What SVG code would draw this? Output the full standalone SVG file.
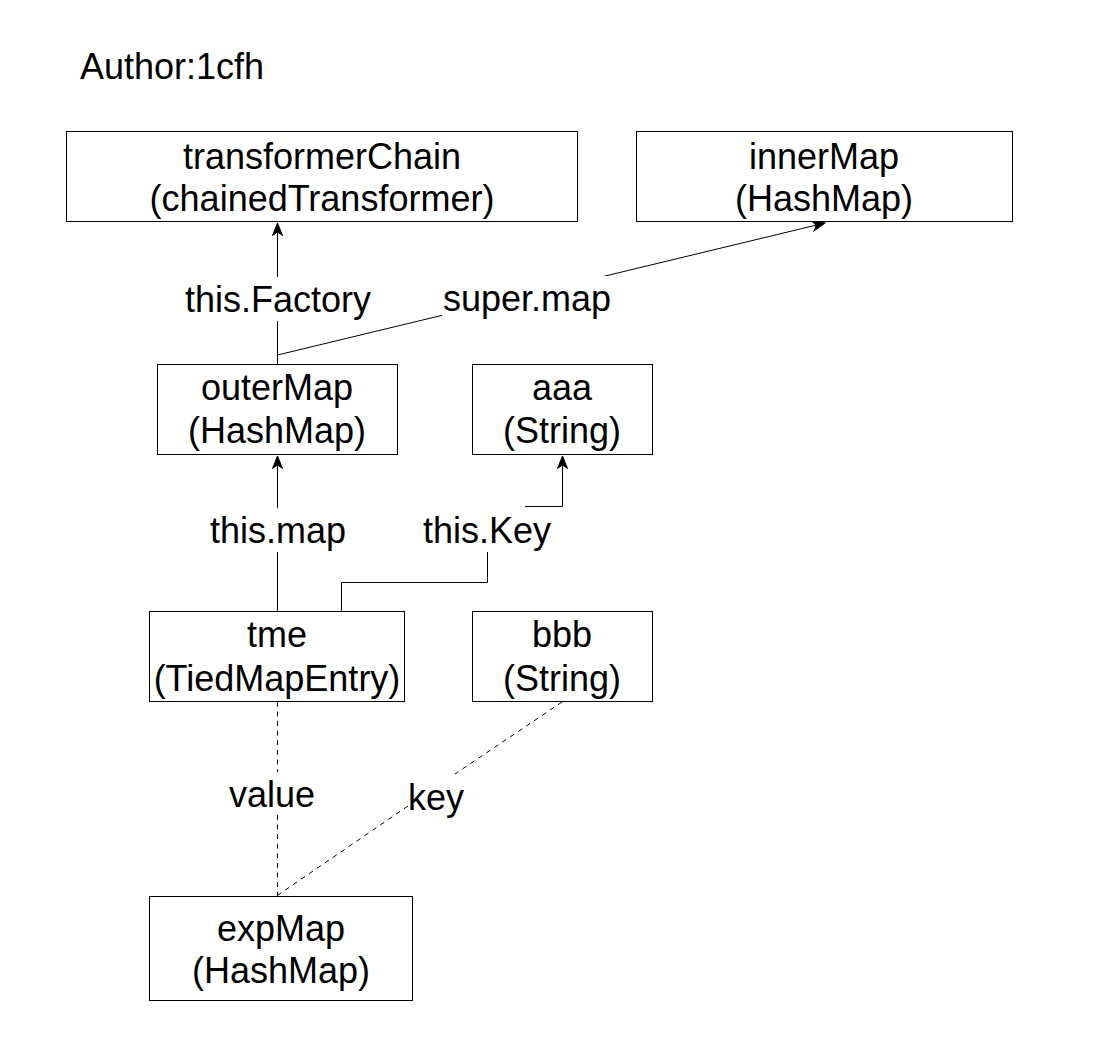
<svg xmlns="http://www.w3.org/2000/svg" width="1107" height="1038" viewBox="0 0 1107 1038">
<style>
  .box { fill: #ffffff; stroke: #000000; stroke-width: 1; }
  .t { font-family: "Liberation Sans", Arial, sans-serif; font-size: 36px; fill: #000000; text-anchor: middle; }
  .edge { fill: none; stroke: #000000; stroke-width: 1; }
  .dash { fill: none; stroke: #000000; stroke-width: 1; stroke-dasharray: 4.8 4.8; }
  .lbg { fill: #ffffff; stroke: none; }
</style>
<defs>
  <marker id="arrow" markerUnits="userSpaceOnUse" markerWidth="14" markerHeight="11" refX="13" refY="5.5" orient="auto" overflow="visible">
    <path d="M0.5,0.5 L13,5.5 L0.5,10.5 L4,5.5 Z" fill="#000000" stroke="#000000" stroke-width="1" stroke-linejoin="miter"/>
  </marker>
</defs>
<rect x="0" y="0" width="1107" height="1038" fill="#ffffff"/>

<text x="80" y="79" class="t" style="text-anchor:start">Author:1cfh</text>

<g id="connectors">
  <g id="e-factory">
    <path class="edge" d="M277.5,364 V223" marker-end="url(#arrow)"/>
    <rect class="lbg" x="185" y="277" width="187" height="44"/>
    <text class="t" x="278" y="312">this.Factory</text>
  </g>
  <g id="e-supermap">
    <path class="edge" d="M277.5,355 L825,223" marker-end="url(#arrow)"/>
    <rect class="lbg" x="442" y="276" width="170" height="44"/>
    <text class="t" x="527" y="311">super.map</text>
  </g>
  <g id="e-thismap">
    <path class="edge" d="M277.5,611 V456" marker-end="url(#arrow)"/>
    <rect class="lbg" x="210" y="508" width="136" height="44"/>
    <text class="t" x="278" y="543">this.map</text>
  </g>
  <g id="e-thiskey">
    <path class="edge" d="M341.5,611 V582.5 H487.5 V552"/>
    <path class="edge" d="M525,506.5 H562.5 V456" marker-end="url(#arrow)"/>
    <text class="t" x="487" y="543">this.Key</text>
  </g>
  <g id="e-value">
    <path class="dash" d="M277.5,702 V772 M277.5,815 V896"/>
    <text class="t" x="272" y="807">value</text>
  </g>
  <g id="e-key">
    <path class="dash" d="M562,702 L455,774 M408,806 L278,895"/>
    <text class="t" x="436" y="810">key</text>
  </g>
</g>

<g id="n-transformerChain">
  <rect class="box" x="66.5" y="131.5" width="511" height="90"/>
  <text class="t" x="322" y="169">transformerChain</text>
  <text class="t" x="322" y="211">(chainedTransformer)</text>
</g>
<g id="n-innerMap">
  <rect class="box" x="636.5" y="131.5" width="376" height="90"/>
  <text class="t" x="824" y="169">innerMap</text>
  <text class="t" x="824" y="211">(HashMap)</text>
</g>
<g id="n-outerMap">
  <rect class="box" x="157.5" y="364.5" width="240" height="90"/>
  <text class="t" x="277" y="400">outerMap</text>
  <text class="t" x="277" y="443">(HashMap)</text>
</g>
<g id="n-aaa">
  <rect class="box" x="472.5" y="364.5" width="180" height="90"/>
  <text class="t" x="562" y="400">aaa</text>
  <text class="t" x="562" y="443">(String)</text>
</g>
<g id="n-tme">
  <rect class="box" x="149.5" y="611.5" width="255" height="90"/>
  <text class="t" x="277" y="647">tme</text>
  <text class="t" x="277" y="691">(TiedMapEntry)</text>
</g>
<g id="n-bbb">
  <rect class="box" x="472.5" y="611.5" width="180" height="90"/>
  <text class="t" x="562" y="647">bbb</text>
  <text class="t" x="562" y="691">(String)</text>
</g>
<g id="n-expMap">
  <rect class="box" x="149.5" y="896.5" width="263" height="104"/>
  <text class="t" x="281" y="941">expMap</text>
  <text class="t" x="281" y="983">(HashMap)</text>
</g>
</svg>
